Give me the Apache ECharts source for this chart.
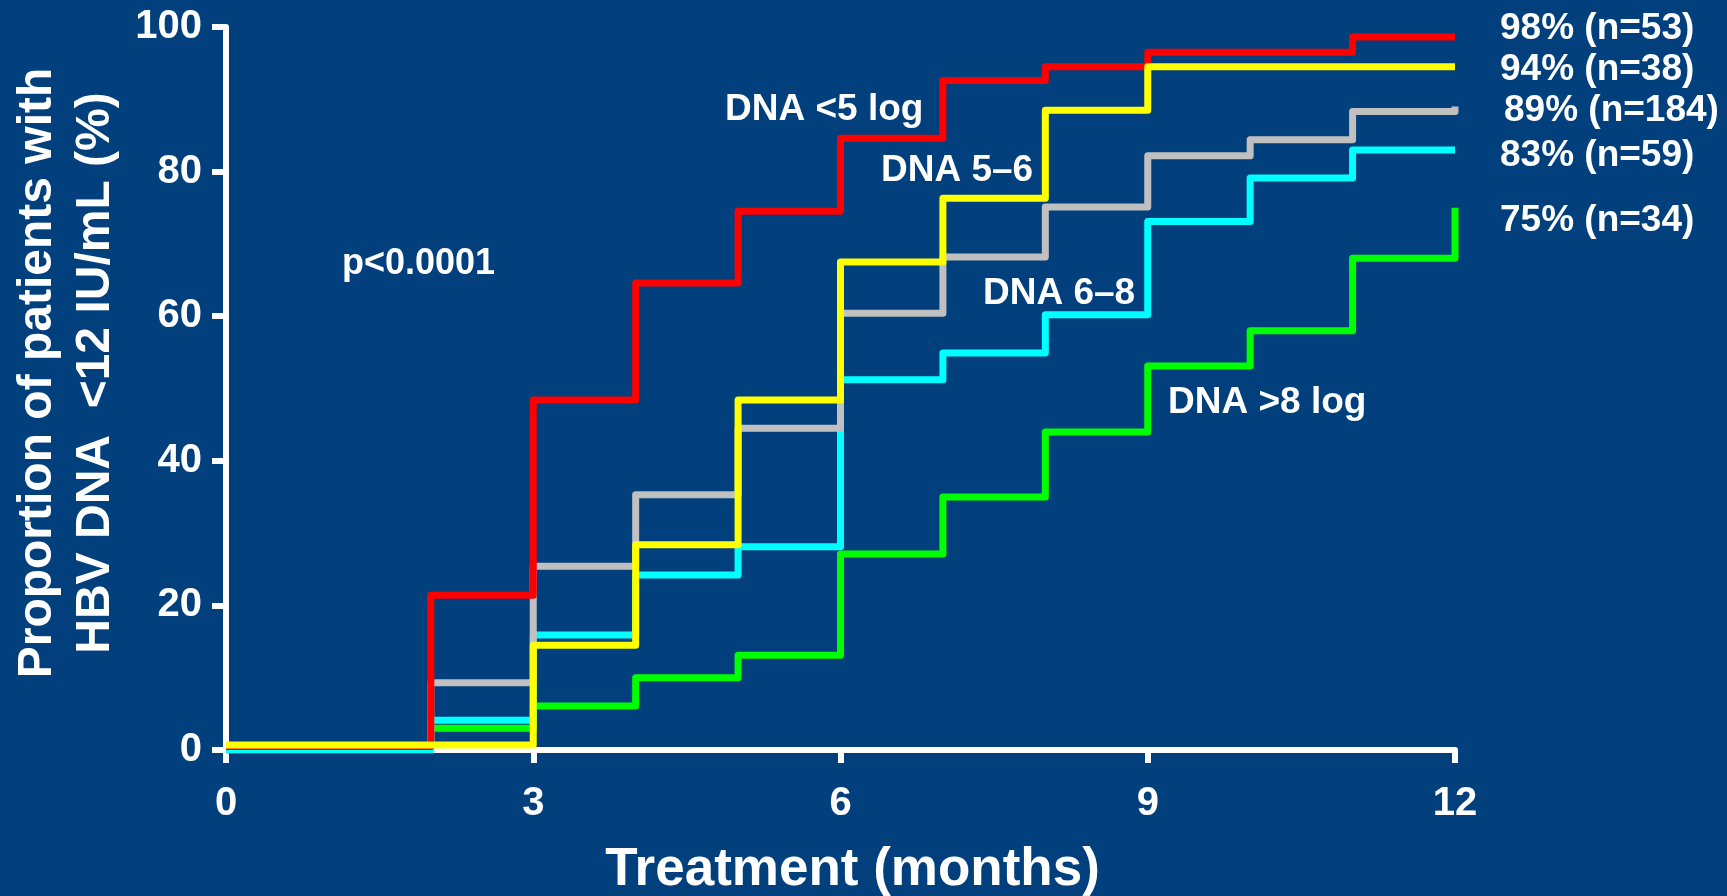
<!DOCTYPE html>
<html>
<head>
<meta charset="utf-8">
<title>HBV DNA &lt;12 IU/mL</title>
<script src="https://cdn.jsdelivr.net/npm/echarts@6/dist/echarts.min.js"></script>
<style>
  html, body { margin: 0; padding: 0; background: #01407c; }
  #main { width: 1727px; height: 896px; }
</style>
</head>
<body>
<div id="main"></div>
<script>
  // x: months of treatment
  var months = [0, 1, 2, 3, 4, 5, 6, 7, 8, 9, 10, 11, 12];

  // proportion (%) with HBV DNA <12 IU/mL, by baseline DNA group (step at each month)
  var dnaLt5  = [0.5, 0.5, 21.4, 48.4, 64.6, 74.5, 84.6, 92.6, 94.5, 96.5, 96.5, 98.6, 98.6];
  var dna5to6 = [0.7, 0.7, 0.7, 14.5, 28.4, 48.4, 67.5, 76.3, 88.5, 94.5, 94.5, 94.5, 94.5];
  var dna6to8 = [0.5, 0.5, 9.3, 25.4, 35.3, 44.5, 60.4, 68.2, 75.1, 82.2, 84.4, 88.3, 89];
  var dnaCyan = [0, 0, 4.1, 15.9, 24.2, 28.1, 51.2, 54.9, 60.2, 73.1, 79.1, 83.0, 83.0];
  var dnaGt8  = [0.5, 0.5, 3.0, 6.1, 10.0, 13.1, 27.1, 35.0, 44.0, 53.1, 58.0, 68.0, 75];

  // end-of-line texts
  var endTexts = {
    lt5: '98% (n=53)',
    d56: '94% (n=38)',
    d68: '89% (n=184)',
    cyan: '83% (n=59)',
    gt8: '75% (n=34)'
  };

  var FONT = "'Liberation Sans', Arial, sans-serif";

  function pairs(vals) {
    return months.map(function (m, i) { return [m, vals[i]]; });
  }

  // one step line; dx/dy nudge the end label
  function stepLine(name, color, vals, endText, dx, dy) {
    return {
      name: name,
      type: 'line',
      step: 'end',
      showSymbol: false,
      lineStyle: { color: color, width: 7, join: 'round' },
      itemStyle: { color: color },
      endLabel: {
        show: true,
        formatter: endText,
        color: '#fff',
        fontFamily: FONT,
        fontWeight: 'bold',
        fontSize: 37,
        distance: 0,
        offset: [dx, dy]
      },
      data: pairs(vals)
    };
  }

  var myChart = echarts.init(document.getElementById('main'));

  var option = {
    backgroundColor: '#01407c',
    animation: false,
    grid: {
      left: 226,
      right: 272,
      top: 27,
      bottom: 146,
      containLabel: false,
      outerBoundsMode: 'none'
    },
    xAxis: {
      type: 'value',
      min: 0,
      max: 12,
      interval: 3,
      z: 3,
      name: 'Treatment (months)',
      nameLocation: 'middle',
      nameGap: 94,
      nameTextStyle: {
        color: '#fff',
        fontFamily: FONT,
        fontWeight: 'bold',
        fontSize: 53,
        padding: [0, 0, 0, 24]
      },
      axisLine: { show: true, onZero: false, lineStyle: { color: '#fff', width: 6 } },
      axisTick: { show: true, length: 13, lineStyle: { color: '#fff', width: 6 } },
      axisLabel: {
        color: '#fff',
        fontFamily: FONT,
        fontWeight: 'bold',
        fontSize: 40,
        margin: 34
      },
      splitLine: { show: false }
    },
    yAxis: {
      type: 'value',
      min: 0,
      max: 100,
      interval: 20,
      z: 3,
      name: 'Proportion of patients with\nHBV DNA  <12 IU/mL (%)',
      nameLocation: 'middle',
      nameRotate: 90,
      nameGap: 100,
      nameTextStyle: {
        color: '#fff',
        fontFamily: FONT,
        fontWeight: 'bold',
        fontSize: 48,
        lineHeight: 58,
        padding: [0, 0, 0, 31]
      },
      axisLine: { show: true, lineStyle: { color: '#fff', width: 6 } },
      axisTick: { show: true, length: 14, lineStyle: { color: '#fff', width: 6 } },
      axisLabel: {
        color: '#fff',
        fontFamily: FONT,
        fontWeight: 'bold',
        fontSize: 40,
        margin: 24
      },
      splitLine: { show: false }
    },
    graphic: [
      { type: 'text', x: 342, y: 264, style: { text: 'p<0.0001', fill: '#fff', font: 'bold 36px ' + FONT, align: 'left', verticalAlign: 'middle' } },
      { type: 'text', x: 725, y: 110, style: { text: 'DNA <5 log', fill: '#fff', font: 'bold 37px ' + FONT, align: 'left', verticalAlign: 'middle' } },
      { type: 'text', x: 881, y: 171, style: { text: 'DNA 5–6', fill: '#fff', font: 'bold 37px ' + FONT, align: 'left', verticalAlign: 'middle' } },
      { type: 'text', x: 983, y: 294, style: { text: 'DNA 6–8', fill: '#fff', font: 'bold 37px ' + FONT, align: 'left', verticalAlign: 'middle' } },
      { type: 'text', x: 1168, y: 403, style: { text: 'DNA >8 log', fill: '#fff', font: 'bold 37px ' + FONT, align: 'left', verticalAlign: 'middle' } }
    ],
    series: [
      stepLine('DNA >8 log', '#00ff00', dnaGt8, endTexts.gt8, 45, 13),
      stepLine('DNA 6-8 (cyan)', '#00ffff', dnaCyan, endTexts.cyan, 45, 6),
      stepLine('DNA 6–8', '#c0c0c0', dna6to8, endTexts.d68, 49, 4),
      stepLine('DNA <5 log', '#ff0000', dnaLt5, endTexts.lt5, 45, -8),
      stepLine('DNA 5–6', '#ffff00', dna5to6, endTexts.d56, 45, 3)
    ]
  };

  myChart.setOption(option);
</script>
</body>
</html>
